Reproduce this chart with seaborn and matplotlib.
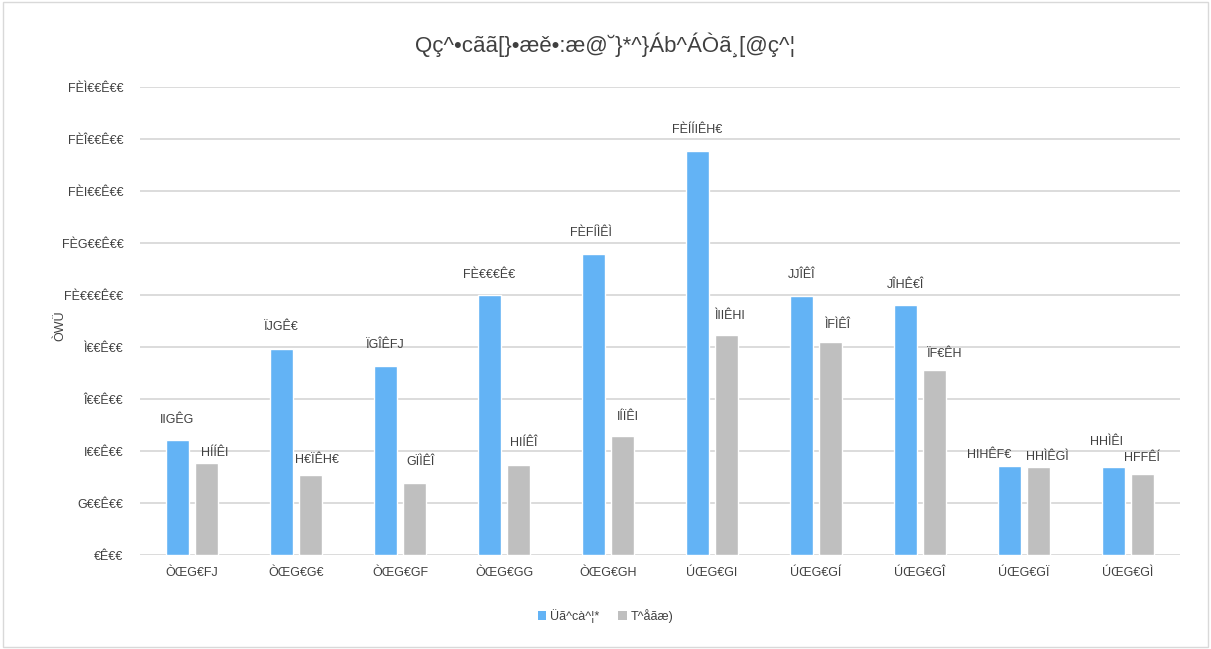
import matplotlib
matplotlib.use("Agg")
import matplotlib.pyplot as plt
import seaborn as sns
import pandas as pd
from matplotlib.patches import Rectangle, Patch

# ---------------- data ----------------
categories = ["ÒŒG€FJ", "ÒŒG€G€", "ÒŒG€GF", "ÒŒG€GG", "ÒŒG€GH",
              "ÚŒG€GI", "ÚŒG€GÍ", "ÚŒG€GÎ", "ÚŒG€GÏ", "ÚŒG€GÌ"]
series_names = ["Üã^cà^¦*", "T^åãæ)"]
blue_values = [442.2, 792.0, 726.19, 1000.0, 1158.8, 1554.30, 996.6, 963.06, 343.10, 338.4]
gray_values = [355.4, 307.30, 278.6, 345.6, 457.4, 844.34, 818.6, 710.3, 338.28, 311.5]
blue_labels = ["IIGÊG", "ÏJGÊ€", "ÏGÎÊFJ", "FÈ€€€Ê€", "FÈFÍÌÊÌ",
               "FÈÍÍIÊH€", "JJÎÊÎ", "JÎHÊ€Î", "HIHÊF€", "HHÌÊI"]
gray_labels = ["HÍÍÊI", "H€ÏÊH€", "GÏÌÊÎ", "HIÍÊÎ", "IÍÏÊI",
               "ÌIIÊHI", "ÌFÌÊÎ", "ÏF€ÊH", "HHÌÊGÌ", "HFFÊÍ"]
ytick_values = [0, 200, 400, 600, 800, 1000, 1200, 1400, 1600, 1800]
ytick_labels = ["€Ê€€", "G€€Ê€€", "I€€Ê€€", "Î€€Ê€€", "Ì€€Ê€€",
                "FÈ€€€Ê€€", "FÈG€€Ê€€", "FÈI€€Ê€€", "FÈÎ€€Ê€€", "FÈÌ€€Ê€€"]
title_text = "Qç^•cãã[}•æě•:æ@˘}*^}Áb^ÁÒã¸[@ç^¦"
ylabel_text = "ÒWÜ"

# ---------------- style ----------------
sns.set_theme(style="white")
plt.rcParams["font.family"] = ["Liberation Sans", "DejaVu Sans"]

blue = "#63B3F5"
gray = "#BFBFBF"
text_color = "#404040"
grid_color = "#D9D9D9"

df = pd.DataFrame({
    "cat": categories * 2,
    "val": blue_values + gray_values,
    "series": [series_names[0]] * len(categories) + [series_names[1]] * len(categories),
})

W, H = 1211, 649
fig = plt.figure(figsize=(W / 100, H / 100), dpi=100)
ax = fig.add_axes([140 / W, 1 - 555 / H, 1040 / W, (555 - 87) / H])

sns.barplot(data=df, x="cat", y="val", hue="series", palette=[blue, gray],
            width=0.56, gap=0.2, ax=ax, legend=False, saturation=1,
            errorbar=None, order=categories, hue_order=series_names)

ax.set_ylim(0, 1800)
ax.set_xlim(-0.5, len(categories) - 0.5)
ax.set_yticks(ytick_values)
ax.set_yticklabels(ytick_labels)
ax.set_xlabel("")
ax.set_ylabel(ylabel_text, fontsize=9, color=text_color)
ax.yaxis.set_label_coords(-0.071, 0.49)
ax.tick_params(axis="both", length=0, labelsize=9, colors=text_color)
ax.tick_params(axis="y", pad=12)
ax.tick_params(axis="x", pad=9)
ax.yaxis.grid(True, color=grid_color, lw=1.3)
ax.set_axisbelow(True)
for s in ax.spines.values():
    s.set_visible(False)

# data labels: (dx, dy) offsets in px; Excel moved some to avoid overlaps
blue_dx = [0, 0, 0, 0, -3, 0, 0, 0, -20, -7]
blue_dy = [20, 22, 21, 20, 21, 21, 21, 20, 11, 25]
gray_dx = [8, 6, 6, 5, 5, 4, 7, 10, 9, -1]
gray_dy = [10, 15, 21, 22, 19, 19, 17, 16, 10, 16]
for cont, labels, dxs, dys in zip(ax.containers, [blue_labels, gray_labels],
                                  [blue_dx, gray_dx], [blue_dy, gray_dy]):
    for bar, lab, dx, dy in zip(cont.patches, labels, dxs, dys):
        xc = bar.get_x() + bar.get_width() / 2
        ax.annotate(lab, xy=(xc, bar.get_height()), xytext=(dx * 0.72, dy * 0.72),
                    textcoords="offset points", ha="center", va="center",
                    fontsize=9, color=text_color)

fig.suptitle(title_text, x=0.5, y=1 - 45 / H, va="center", fontsize=16, color=text_color)

handles = [Patch(facecolor=blue, edgecolor="none"), Patch(facecolor=gray, edgecolor="none")]
fig.legend(handles, series_names, loc="center", bbox_to_anchor=(0.5, 1 - 616 / H),
           ncol=2, frameon=False, fontsize=9, handlelength=0.7, handleheight=0.7,
           handletextpad=0.3, columnspacing=1.5, labelcolor=text_color)

fig.patches.append(Rectangle((3 / W, 2 / H), 1 - 6 / W, 1 - 4 / H, transform=fig.transFigure,
                             fill=False, edgecolor=grid_color, lw=1.0))

fig.savefig("out.png", dpi=100)
